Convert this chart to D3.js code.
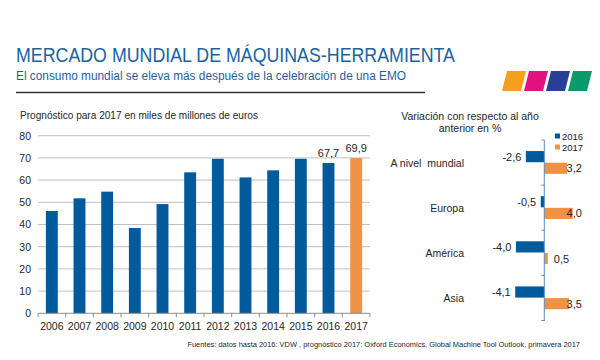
<!DOCTYPE html>
<html><head><meta charset="utf-8">
<script src="https://cdn.jsdelivr.net/npm/d3@7"></script>
<style>
html,body{margin:0;padding:0;background:#fff;}
text{font-family:"Liberation Sans",Arial,sans-serif;}
</style></head>
<body>
<svg id="c" width="600" height="360"></svg>
<script>
// ---- data ----
const years = ["2006","2007","2008","2009","2010","2011","2012","2013","2014","2015","2016","2017"];
const consumo = [46.1, 51.8, 54.8, 38.4, 49.2, 63.5, 69.6, 61.2, 64.4, 69.6, 67.7, 69.9];
const labeledYears = ["2016","2017"];
const yTicks = [0,10,20,30,40,50,60,70,80];

const regions = ["A nivel\u00a0 mundial","Europa","América","Asia"];
const var2016 = [-2.6, -0.5, -4.0, -4.1];
const var2017 = [3.2, 4.0, 0.5, 3.5];
const seriesNames = ["2016","2017"];

const fmt = v => d3.format(".1f")(v).replace("\u2212","-").replace(".", ",");

const BLUE = "#005a9c", ORANGE = "#ee9346", TXT = "#262626";
const svg = d3.select("#c");

// ---- header ----
svg.append("text").attr("x",16).attr("y",62).attr("fill","#1b63a0")
  .attr("font-size",19.5).attr("textLength",439).attr("lengthAdjust","spacingAndGlyphs")
  .text("MERCADO MUNDIAL DE MÁQUINAS-HERRAMIENTA");
svg.append("text").attr("x",16).attr("y",80).attr("fill","#1f5f9c")
  .attr("font-size",12.5).attr("textLength",390).attr("lengthAdjust","spacingAndGlyphs")
  .text("El consumo mundial se eleva más después de la celebración de una EMO");
svg.append("line").attr("x1",16).attr("x2",425).attr("y1",92.5).attr("y2",92.5)
  .attr("stroke","#333").attr("stroke-width",1.3);

const logoColors = ["#f5a01c","#e2137e","#2a3f98","#0b9a6c"];
logoColors.forEach((c,i)=>{
  const x0 = 502 + i*22, top = 71, bot = 91, w = 19, sk = 5;
  svg.append("polygon")
    .attr("points", `${x0+sk},${top} ${x0+sk+w},${top} ${x0+w},${bot} ${x0},${bot}`)
    .attr("fill", c);
});

// ---- left bar chart ----
const x = d3.scaleBand().domain(years).range([38,370]).paddingInner(0.57).paddingOuter(0.285);
const y = d3.scaleLinear().domain([0,80]).range([313.3,135.7]);
const g = svg.append("g");

g.append("text").attr("x",20).attr("y",118.5).attr("fill",TXT).attr("font-size",10)
  .attr("textLength",238).attr("lengthAdjust","spacingAndGlyphs")
  .text("Prognóstico para 2017 en miles de millones de euros");

const yAxis = d3.axisLeft(y).tickValues(yTicks).tickSize(0).tickPadding(7);
const ya = g.append("g").attr("transform","translate(38,0)").call(yAxis);
ya.select(".domain").remove();
ya.selectAll("text").attr("font-size",10.5).attr("fill",TXT).attr("font-family","Liberation Sans, Arial, sans-serif");

g.selectAll(".grid").data(yTicks.filter(d=>d>0)).join("line")
  .attr("x1",38).attr("x2",370).attr("y1",d=>y(d)).attr("y2",d=>y(d))
  .attr("stroke","#bfbfbf").attr("stroke-width",1);

g.selectAll(".bar").data(years).join("rect")
  .attr("x",d=>x(d)).attr("width",x.bandwidth())
  .attr("y",(d,i)=>y(consumo[i])).attr("height",(d,i)=>y(0)-y(consumo[i]))
  .attr("fill",d=>d==="2017"?ORANGE:BLUE);

// baseline + category ticks
g.append("line").attr("x1",38).attr("x2",370).attr("y1",y(0)).attr("y2",y(0))
  .attr("stroke","#8c8c8c");
const step = x.step();
const bounds = d3.range(years.length+1).map(i=>38 + i*step);
g.selectAll(".xt").data(bounds).join("line")
  .attr("x1",d=>d).attr("x2",d=>d).attr("y1",y(0)).attr("y2",y(0)+4)
  .attr("stroke","#8c8c8c");
g.selectAll(".xl").data(years).join("text")
  .attr("x",d=>x(d)+x.bandwidth()/2).attr("y",y(0)+17)
  .attr("text-anchor","middle").attr("font-size",10.5).attr("fill",TXT).text(d=>d);

g.selectAll(".vl").data(labeledYears).join("text")
  .attr("x",d=>x(d)+x.bandwidth()/2).attr("y",d=>y(consumo[years.indexOf(d)])-6)
  .attr("text-anchor","middle").attr("font-size",11).attr("fill",TXT)
  .text(d=>fmt(consumo[years.indexOf(d)]));

// ---- right chart ----
const r = svg.append("g");
r.append("text").attr("x",470).attr("y",120).attr("text-anchor","middle")
  .attr("font-size",10.5).attr("fill",TXT).text("Variación con respecto al año");
r.append("text").attr("x",470).attr("y",132).attr("text-anchor","middle")
  .attr("font-size",10.5).attr("fill",TXT).text("anterior en %");

const xr = d3.scaleLinear().domain([-5.3,5.3]).range([506.7,581.9]);
const yr = d3.scaleBand().domain(regions).range([140,320.5]);
const ys = d3.scaleBand().domain(seriesNames).range([yr.bandwidth()*0.245, yr.bandwidth()*0.75]).paddingInner(0.04);
const vals = {"2016":var2016,"2017":var2017};
const cols = {"2016":BLUE,"2017":ORANGE};

seriesNames.forEach(s=>{
  r.selectAll(".b"+s).data(regions).join("rect")
    .attr("x",(d,i)=>xr(Math.min(0,vals[s][i])))
    .attr("width",(d,i)=>Math.abs(xr(vals[s][i])-xr(0)))
    .attr("y",d=>yr(d)+ys(s)).attr("height",ys.bandwidth())
    .attr("fill",cols[s]);
});

// axis
r.append("line").attr("x1",xr(0)).attr("x2",xr(0)).attr("y1",140).attr("y2",321)
  .attr("stroke","#5b8ec4").attr("stroke-width",1);
const rb = regions.map(d=>yr(d)).concat([yr.range()[1]]);
r.selectAll(".rt").data(rb).join("line")
  .attr("x1",xr(0)-3).attr("x2",xr(0)).attr("y1",d=>d).attr("y2",d=>d)
  .attr("stroke","#5b8ec4");

// category labels
r.selectAll(".rl").data(regions).join("text")
  .attr("x",464).attr("y",d=>yr(d)+yr.bandwidth()/2+4)
  .attr("text-anchor","end").attr("font-size",10.5).attr("fill",TXT)
  .style("white-space","pre").text(d=>d);

// value labels
seriesNames.forEach(s=>{
  regions.forEach((d,i)=>{
    const v = vals[s][i];
    const yy = yr(d)+ys(s)+ys.bandwidth()/2+4;
    const t = r.append("text").attr("y",yy).attr("font-size",11).attr("fill",TXT).text(fmt(v));
    if (v<0) {
      t.attr("x",xr(v)-4.5).attr("text-anchor","end");
    } else {
      t.attr("x",xr(v)+6).attr("text-anchor","start");
      const w = t.node().getComputedTextLength();
      if (xr(v)+6+w > xr.range()[1]) t.attr("x",xr.range()[1]).attr("text-anchor","end");
    }
  });
});

// legend
seriesNames.forEach((s,i)=>{
  const ly = 136 + i*11;
  r.append("rect").attr("x",555).attr("y",ly-2.5).attr("width",5).attr("height",5).attr("fill",cols[s]);
  r.append("text").attr("x",562).attr("y",ly+3.5).attr("font-size",9.5).attr("fill",TXT).text(s);
});

// footer
svg.append("text").attr("x",580).attr("y",346.5).attr("text-anchor","end")
  .attr("font-size",7.45).attr("fill",TXT)
  .text("Fuentes: datos hasta 2016: VDW , prognóstico 2017: Oxford Economics, Global Machine Tool Outlook, primavera 2017");
</script>
</body></html>
